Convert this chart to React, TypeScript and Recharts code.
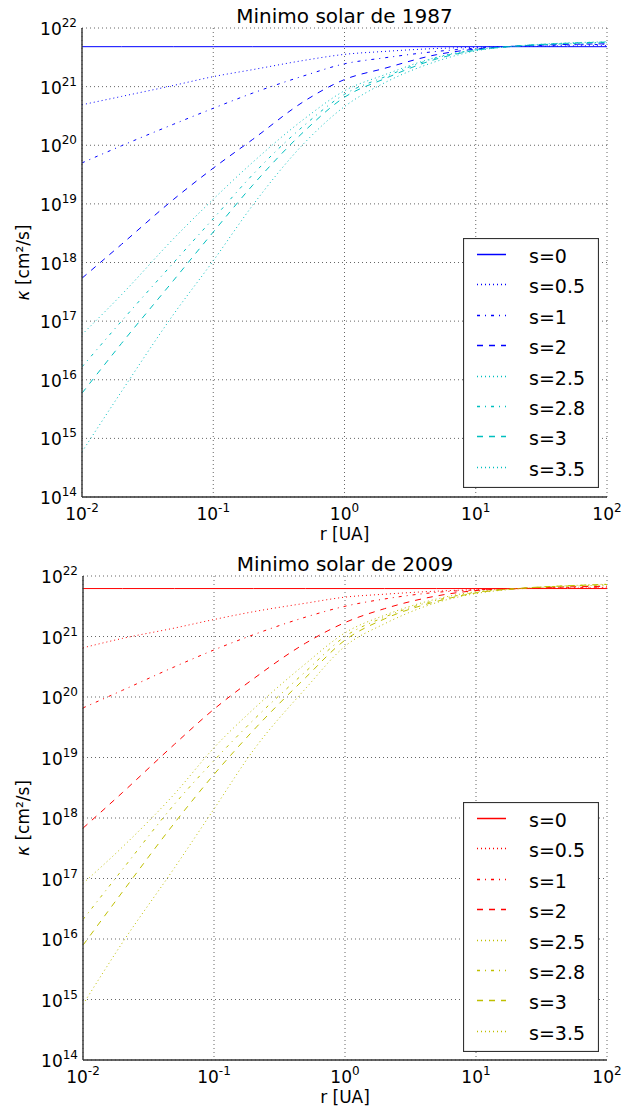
import React from "react";
import { CartesianGrid, Legend, Line, LineChart, XAxis, YAxis } from "recharts";

// radial distance r [UA] where the curves were read
const radius = [0.01, 0.02, 0.05, 0.1, 0.2, 0.5, 1, 2, 5, 10, 20, 50, 100];
const seriesKeys = ["s0", "s05", "s1", "s2", "s25", "s28", "s3", "s35"];
const seriesNames = ["s=0", "s=0.5", "s=1", "s=2", "s=2.5", "s=2.8", "s=3", "s=3.5"];
const seriesDash = ["", "1 3", "3 5 1 5", "6 6", "1 3", "3 5 1 5", "6 6", "1 3"];

// Minimo solar de 1987, kappa [cm^2/s]
const k1987_s0 = [4.8e21, 4.8e21, 4.8e21, 4.8e21, 4.8e21, 4.8e21, 4.8e21, 4.8e21, 4.8e21, 4.8e21, 4.8e21, 4.8e21, 4.8e21];
const k1987_s05 = [4.9e20, 6.8e20, 1.05e21, 1.48e21, 1.95e21, 2.82e21, 3.55e21, 3.98e21, 4.47e21, 4.68e21, 4.84e21, 4.95e21, 5.0e21];
const k1987_s1 = [5.0e19, 9.8e19, 2.29e20, 4.27e20, 7.76e20, 1.55e21, 2.45e21, 3.09e21, 3.98e21, 4.52e21, 4.9e21, 5.13e21, 5.25e21];
const k1987_s2 = [5.4e17, 2.04e18, 1.2e19, 4.07e19, 1.26e20, 5.75e20, 1.32e21, 2.04e21, 3.5e21, 4.37e21, 4.9e21, 5.25e21, 5.37e21];
const k1987_s25 = [5.9e16, 2.82e17, 2.57e18, 1.2e19, 5.13e19, 2.88e20, 8.5e20, 1.58e21, 3.16e21, 4.27e21, 4.9e21, 5.37e21, 5.62e21];
const k1987_s28 = [1.66e16, 1.0e17, 1.0e18, 5.6e18, 3.16e19, 2.24e20, 7.4e20, 1.45e21, 3.09e21, 4.22e21, 4.9e21, 5.43e21, 5.69e21];
const k1987_s3 = [5.9e15, 4.17e16, 5.0e17, 3.31e18, 2.09e19, 1.78e20, 6.6e20, 1.35e21, 2.95e21, 4.17e21, 4.9e21, 5.5e21, 5.75e21];
const k1987_s35 = [5.9e14, 6.3e15, 1.32e17, 1.07e18, 9.5e18, 1.12e20, 4.57e20, 1.15e21, 2.69e21, 4.07e21, 4.9e21, 5.56e21, 5.82e21];

// Minimo solar de 2009, kappa [cm^2/s]
const k2009_s0 = [6.2e21, 6.2e21, 6.2e21, 6.2e21, 6.2e21, 6.2e21, 6.2e21, 6.2e21, 6.2e21, 6.2e21, 6.2e21, 6.2e21, 6.2e21];
const k2009_s05 = [6.5e20, 9.3e20, 1.38e21, 1.91e21, 2.57e21, 3.55e21, 4.47e21, 5.0e21, 5.62e21, 5.96e21, 6.17e21, 6.3e21, 6.38e21];
const k2009_s1 = [6.6e19, 1.29e20, 3.16e20, 6.0e20, 1.07e21, 2.09e21, 3.16e21, 4.17e21, 5.37e21, 5.89e21, 6.17e21, 6.46e21, 6.53e21];
const k2009_s2 = [6.8e17, 2.63e18, 1.66e19, 6.3e19, 2.0e20, 7.76e20, 1.7e21, 2.88e21, 4.68e21, 5.75e21, 6.17e21, 6.6e21, 6.76e21];
const k2009_s25 = [8.3e16, 3.31e17, 2.51e18, 1.45e19, 6.3e19, 3.55e20, 1.15e21, 2.24e21, 4.17e21, 5.5e21, 6.17e21, 6.76e21, 7.08e21];
const k2009_s28 = [2.1e16, 1.41e17, 1.7e18, 8.9e18, 4.17e19, 2.63e20, 1.0e21, 2.09e21, 3.98e21, 5.37e21, 6.17e21, 6.84e21, 7.16e21];
const k2009_s3 = [7.9e15, 6.0e16, 8.3e17, 5.25e18, 2.82e19, 2.09e20, 8.7e20, 1.95e21, 3.8e21, 5.25e21, 6.17e21, 6.9e21, 7.24e21];
const k2009_s35 = [8.3e14, 8.7e15, 1.51e17, 1.41e18, 1.32e19, 1.38e20, 6.9e20, 1.62e21, 3.63e21, 5.13e21, 6.1e21, 6.9e21, 7.33e21];

// axis ticks
const xDomain = [0.01, 100];
const yDomain = [1e14, 1e22];
const xMajor = [0.01, 0.1, 1, 10, 100];
const xMinor = [0.02, 0.03, 0.04, 0.05, 0.06, 0.07, 0.08, 0.09, 0.2, 0.3, 0.4, 0.5, 0.6, 0.7, 0.8, 0.9,
  2, 3, 4, 5, 6, 7, 8, 9, 20, 30, 40, 50, 60, 70, 80, 90];
const yMajor = [1e14, 1e15, 1e16, 1e17, 1e18, 1e19, 1e20, 1e21, 1e22];
const yMinor = [2e14, 3e14, 4e14, 5e14, 6e14, 7e14, 8e14, 9e14, 2e15, 3e15, 4e15, 5e15, 6e15, 7e15, 8e15, 9e15,
  2e16, 3e16, 4e16, 5e16, 6e16, 7e16, 8e16, 9e16, 2e17, 3e17, 4e17, 5e17, 6e17, 7e17, 8e17, 9e17,
  2e18, 3e18, 4e18, 5e18, 6e18, 7e18, 8e18, 9e18, 2e19, 3e19, 4e19, 5e19, 6e19, 7e19, 8e19, 9e19,
  2e20, 3e20, 4e20, 5e20, 6e20, 7e20, 8e20, 9e20, 2e21, 3e21, 4e21, 5e21, 6e21, 7e21, 8e21, 9e21];

const FONT = "DejaVu Sans, sans-serif";
const FRAME = "#333";

function buildRows(series: number[][]) {
  return radius.map((r, i) => {
    const row: Record<string, number> = { r };
    seriesKeys.forEach((k, j) => {
      row[k] = series[j][i];
    });
    return row;
  });
}

const data1987 = buildRows([k1987_s0, k1987_s05, k1987_s1, k1987_s2, k1987_s25, k1987_s28, k1987_s3, k1987_s35]);
const data2009 = buildRows([k2009_s0, k2009_s05, k2009_s1, k2009_s2, k2009_s25, k2009_s28, k2009_s3, k2009_s35]);

function XTick(props: any) {
  const { x, y, payload } = props;
  const exp = Math.round(Math.log10(payload.value));
  return (
    <text x={x} y={y + 23} textAnchor="middle" fontFamily={FONT} fontSize={17} fill="#000">
      10<tspan dy={-8} fontSize={12}>{exp}</tspan>
    </text>
  );
}

function YTick(props: any) {
  const { x, y, payload } = props;
  const exp = Math.round(Math.log10(payload.value));
  return (
    <text x={x} y={y + 7} textAnchor="end" fontFamily={FONT} fontSize={17} fill="#000">
      10<tspan dy={-8} fontSize={12}>{exp}</tspan>
    </text>
  );
}

// inward ticks on all four sides, plus the top and right spines
function frameAxes() {
  const tl = { stroke: FRAME, strokeWidth: 1 };
  const spine = { stroke: FRAME, strokeWidth: 1.4 };
  return [
    <XAxis key="xb1" xAxisId="xb1" orientation="bottom" mirror height={0} type="number" scale="log"
      domain={xDomain} allowDataOverflow ticks={xMajor} interval={0} tick={false} tickSize={6}
      tickLine={tl} axisLine={false} />,
    <XAxis key="xb2" xAxisId="xb2" orientation="bottom" mirror height={0} type="number" scale="log"
      domain={xDomain} allowDataOverflow ticks={xMinor} interval={0} tick={false} tickSize={3}
      tickLine={tl} axisLine={false} />,
    <XAxis key="xt1" xAxisId="xt1" orientation="top" mirror height={0} type="number" scale="log"
      domain={xDomain} allowDataOverflow ticks={xMajor} interval={0} tick={false} tickSize={6}
      tickLine={tl} axisLine={spine} />,
    <XAxis key="xt2" xAxisId="xt2" orientation="top" mirror height={0} type="number" scale="log"
      domain={xDomain} allowDataOverflow ticks={xMinor} interval={0} tick={false} tickSize={3}
      tickLine={tl} axisLine={false} />,
    <YAxis key="yl1" yAxisId="yl1" orientation="left" mirror width={0} type="number" scale="log"
      domain={yDomain} allowDataOverflow ticks={yMajor} interval={0} tick={false} tickSize={6}
      tickLine={tl} axisLine={false} />,
    <YAxis key="yl2" yAxisId="yl2" orientation="left" mirror width={0} type="number" scale="log"
      domain={yDomain} allowDataOverflow ticks={yMinor} interval={0} tick={false} tickSize={3}
      tickLine={tl} axisLine={false} />,
    <YAxis key="yr1" yAxisId="yr1" orientation="right" mirror width={0} type="number" scale="log"
      domain={yDomain} allowDataOverflow ticks={yMajor} interval={0} tick={false} tickSize={6}
      tickLine={tl} axisLine={spine} />,
    <YAxis key="yr2" yAxisId="yr2" orientation="right" mirror width={0} type="number" scale="log"
      domain={yDomain} allowDataOverflow ticks={yMinor} interval={0} tick={false} tickSize={3}
      tickLine={tl} axisLine={false} />,
  ];
}

function LegendBox({ colors }: { colors: string[] }) {
  return (
    <svg width={136} height={250} style={{ display: "block" }}>
      <rect x={0.5} y={0.5} width={135} height={249} fill="#fff" stroke={FRAME} strokeWidth={1.2} />
      {seriesNames.map((name, i) => {
        const y = Math.round(16 + i * 30.4) + 0.5;
        return (
          <g key={name}>
            <line x1={14} x2={43} y1={y} y2={y} stroke={colors[i]} strokeWidth={1.5}
              strokeDasharray={seriesDash[i] || undefined} />
            <text x={66} y={y + 8} fontFamily={FONT} fontSize={19} fill="#000">{name}</text>
          </g>
        );
      })}
    </svg>
  );
}

interface PanelProps {
  title: string;
  data: Record<string, number>[];
  colors: string[];
  height: number;
  axisHeight: number;
  axisWidth: number;
  legendTop: number;
}

function Panel({ title, data, colors, height, axisHeight, axisWidth, legendTop }: PanelProps) {
  const top = 28;
  const plotBottom = height - axisHeight;
  const cx = (axisWidth + 607) / 2;
  return (
    <div style={{ position: "relative", width: 625, height }}>
      <LineChart width={625} height={height} data={data} margin={{ top, right: 18, bottom: 0, left: 0 }}>
        {frameAxes()}
        <XAxis xAxisId="x" dataKey="r" type="number" scale="log" domain={xDomain} allowDataOverflow
          ticks={xMajor} interval={0} height={axisHeight} tick={<XTick />} tickSize={0} tickMargin={0}
          tickLine={false} axisLine={{ stroke: FRAME, strokeWidth: 1.4 }} />
        <YAxis yAxisId="y" type="number" scale="log" domain={yDomain} allowDataOverflow
          ticks={yMajor} interval={0} width={axisWidth} tick={<YTick />} tickSize={0} tickMargin={5}
          tickLine={false} axisLine={{ stroke: FRAME, strokeWidth: 1.4 }} />
        <CartesianGrid xAxisId="x" yAxisId="y" stroke="#666" strokeWidth={1} strokeDasharray="1 3" />
        {seriesKeys.map((k, i) => (
          <Line key={k} xAxisId="x" yAxisId="y" dataKey={k} name={seriesNames[i]} type="monotone"
            stroke={colors[i]} strokeWidth={1} strokeDasharray={seriesDash[i] || undefined}
            dot={false} activeDot={false} isAnimationActive={false} />
        ))}
        <Legend layout="vertical" align="center" verticalAlign="middle"
          wrapperStyle={{ left: 463, top: legendTop, width: 136, height: 250 }}
          content={() => <LegendBox colors={colors} />} />
      </LineChart>
      <svg width={625} height={height} style={{ position: "absolute", left: 0, top: 0, pointerEvents: "none" }}>
        <text x={cx} y={top - 5} textAnchor="middle" fontFamily={FONT} fontSize={20} fill="#000">{title}</text>
        <text x={cx} y={plotBottom + 43} textAnchor="middle" fontFamily={FONT} fontSize={17} fill="#000">r [UA]</text>
        <text transform={`translate(29, ${(top + plotBottom) / 2}) rotate(-90)`} textAnchor="middle"
          fontFamily={FONT} fontSize={17} fill="#000">
          <tspan fontStyle="italic">κ</tspan> [cm²/s]
        </text>
      </svg>
    </div>
  );
}

export default function App() {
  return (
    <div style={{ position: "absolute", left: 0, top: 0, width: 625, height: 1114, background: "#fff" }}>
      <div style={{ position: "absolute", left: 0, top: 0 }}>
        <Panel title="Minimo solar de 1987" data={data1987}
          colors={["#0000ff", "#0000ff", "#0000ff", "#0000ff", "#00bfbf", "#00bfbf", "#00bfbf", "#00bfbf"]}
          height={557} axisHeight={60} axisWidth={82} legendTop={238} />
      </div>
      <div style={{ position: "absolute", left: 0, top: 548 }}>
        <Panel title="Minimo solar de 2009" data={data2009}
          colors={["#ff0000", "#ff0000", "#ff0000", "#ff0000", "#bfbf00", "#bfbf00", "#bfbf00", "#bfbf00"]}
          height={566} axisHeight={54} axisWidth={83} legendTop={254} />
      </div>
    </div>
  );
}
